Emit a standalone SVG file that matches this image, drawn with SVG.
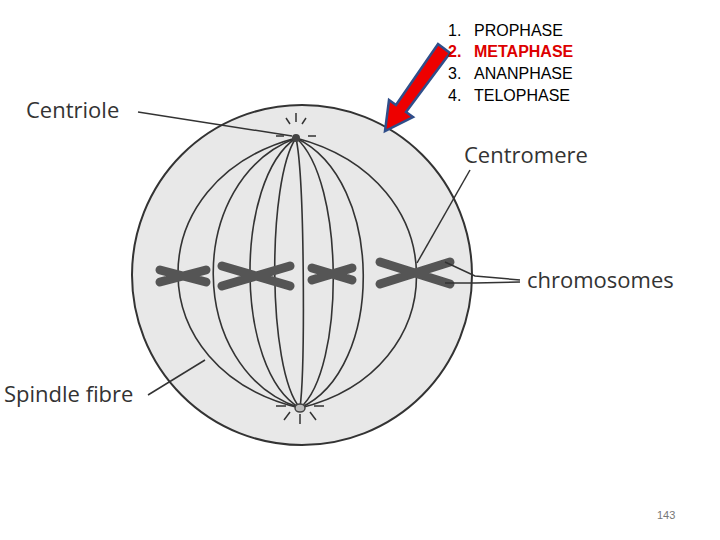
<svg xmlns="http://www.w3.org/2000/svg" width="720" height="540" viewBox="0 0 720 540">
<style>
.f{fill:none;stroke:#333;stroke-width:1.6}
.l{fill:none;stroke:#333;stroke-width:1.5}
.t{font-family:"Liberation Sans",Arial,sans-serif;font-size:16px;fill:#000}
.lab{font-family:"Open Sans","Liberation Sans",sans-serif;font-size:22px;fill:#333}
.c{stroke:#555;stroke-width:9;stroke-linecap:round;fill:none}
</style>
<rect width="720" height="540" fill="#fff"/>
<g id="cell">
<circle cx="302" cy="275" r="170" fill="#e8e8e8" stroke="#333" stroke-width="2"/>
</g>
<g id="spindle">
<path class="f" d="M296,138 C138,180 138,370 300,408"/>
<path class="f" d="M296,138 C185,180 185,370 300,408"/>
<path class="f" d="M296,138 C234,180 234,370 300,408"/>
<path class="f" d="M296,138 C267,180 267,370 300,408"/>
<path class="f" d="M296,138 C305,180 305,370 300,408"/>
<path class="f" d="M296,138 C345,180 345,370 300,408"/>
<path class="f" d="M296,138 C385,180 385,370 300,408"/>
<path class="f" d="M296,138 C456,180 456,370 300,408"/>
<circle cx="296" cy="138" r="4" fill="#444"/>
<ellipse cx="300" cy="408" rx="5" ry="4" fill="#bbb" stroke="#444" stroke-width="1.5"/>
<path class="l" d="M290,124 l-4,-6 M296,122 v-9 M302,124 l4,-6 M284,136 h-8 M308,136 h8 M290,412 l-6,8 M300,414 v10 M310,412 l6,8 M286,406 h-10 M314,406 h10"/>
</g>
<g id="chromosomes">
<path class="c" d="M160,270 L206,282 M160,282 L206,270"/>
<path class="c" d="M222,266 L290,286 M222,286 L290,266"/>
<path class="c" d="M312,268 L352,280 M312,280 L352,268"/>
<path class="c" d="M380,262 L450,284 M380,284 L450,262"/>
</g>
<g id="connectors">
<path class="l" d="M138,112 L292,136"/>
<path class="l" d="M470,170 L417,263"/>
<path class="l" d="M445,262 L475,276 L520,280 M445,283 L475,283 L520,282"/>
<path class="l" d="M148,395 L205,360"/>
<path d="M438,44 L450,53 L406,112 L413,117 L385,131 L389,100 L396,105 Z" fill="#e00" stroke="#2f4e8a" stroke-width="2.5"/>
</g>
<g id="labels">
<text class="lab" x="26" y="118">Centriole</text>
<text class="lab" x="464" y="163">Centromere</text>
<text class="lab" x="527" y="288">chromosomes</text>
<text class="lab" x="4" y="402">Spindle fibre</text>
<text class="t" x="448" y="36">1.</text><text class="t" x="474" y="36">PROPHASE</text>
<text class="t" x="448" y="57" font-weight="bold" style="fill:#d00">2.</text><text class="t" x="474" y="57" font-weight="bold" style="fill:#d00">METAPHASE</text>
<text class="t" x="448" y="79">3.</text><text class="t" x="474" y="79">ANANPHASE</text>
<text class="t" x="448" y="101">4.</text><text class="t" x="474" y="101">TELOPHASE</text>
<text x="657" y="519" font-family="Liberation Sans,sans-serif" font-size="11" fill="#777">143</text>
</g>
</svg>
